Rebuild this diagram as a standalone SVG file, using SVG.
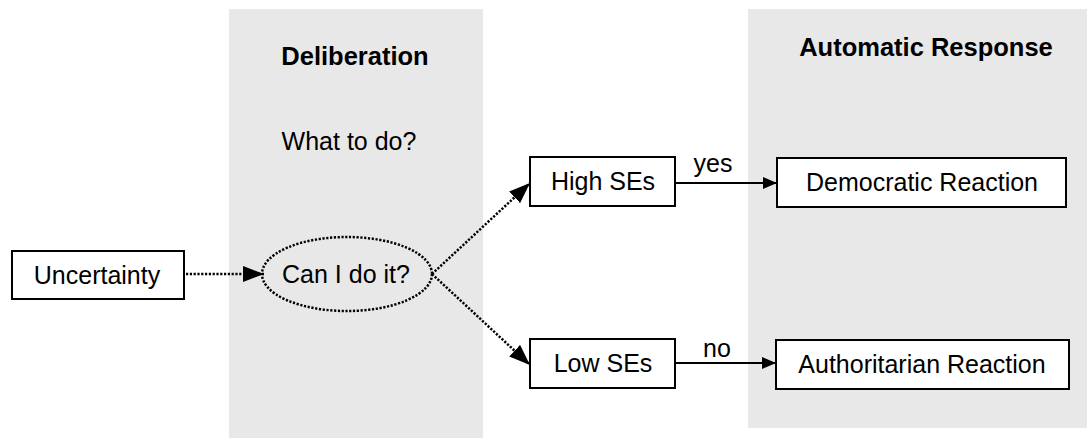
<svg xmlns="http://www.w3.org/2000/svg" width="1087" height="438" viewBox="0 0 1087 438">
  <style>
    .panel { fill: #e8e8e8; }
    .box { fill: #ffffff; stroke: #000000; stroke-width: 2; }
    .label { font-family: "Liberation Sans", Arial, sans-serif; font-size: 25px; fill: #000000; text-anchor: middle; }
    .title { font-family: "Liberation Sans", Arial, sans-serif; font-size: 25.5px; font-weight: bold; fill: #000000; text-anchor: middle; }
    .dotted { fill: none; stroke: #000000; stroke-width: 2.5; stroke-dasharray: 2.2 1.6; }
    .solid { fill: none; stroke: #000000; stroke-width: 2; }
  </style>
  <defs>
    <marker id="bigHead" viewBox="0 0 21 16" refX="21" refY="8" markerWidth="21" markerHeight="16" markerUnits="userSpaceOnUse" orient="auto">
      <path d="M0,0 L21,8 L0,16 Z" fill="#000000"/>
    </marker>
    <marker id="smallHead" viewBox="0 0 14 12" refX="14" refY="6" markerWidth="14" markerHeight="12" markerUnits="userSpaceOnUse" orient="auto">
      <path d="M0,0 L14,6 L0,12 Z" fill="#000000"/>
    </marker>
  </defs>

  <rect width="1087" height="438" fill="#ffffff"/>

  <!-- background columns -->
  <g id="panel-deliberation">
    <rect class="panel" x="229" y="9" width="254" height="429"/>
    <text class="title" x="355" y="65">Deliberation</text>
    <text class="label" x="349" y="150">What to do?</text>
  </g>
  <g id="panel-automatic">
    <rect class="panel" x="748" y="9" width="339" height="419"/>
    <text class="title" x="926" y="56">Automatic Response</text>
  </g>

  <!-- connectors -->
  <g id="connectors">
    <line class="dotted" x1="186" y1="274" x2="264" y2="274" marker-end="url(#bigHead)"/>
    <line class="dotted" x1="432" y1="274" x2="530" y2="183" marker-end="url(#bigHead)"/>
    <line class="dotted" x1="432" y1="274" x2="530" y2="365" marker-end="url(#bigHead)"/>
    <line class="solid" x1="676" y1="183" x2="777" y2="183" marker-end="url(#smallHead)"/>
    <line class="solid" x1="676" y1="363" x2="776" y2="363" marker-end="url(#smallHead)"/>
    <text class="label" x="713" y="172">yes</text>
    <text class="label" x="717" y="357">no</text>
  </g>

  <!-- nodes -->
  <g id="uncertainty">
    <rect class="box" x="12" y="251" width="172" height="48"/>
    <text class="label" x="97" y="284">Uncertainty</text>
  </g>
  <g id="can-i-do-it">
    <ellipse cx="347" cy="274" rx="85" ry="37" fill="none" stroke="#000000" stroke-width="2.5" stroke-dasharray="2.2 1.6"/>
    <text class="label" x="346" y="283">Can I do it?</text>
  </g>
  <g id="high-ses">
    <rect class="box" x="530" y="157" width="145" height="49"/>
    <text class="label" x="603" y="190">High SEs</text>
  </g>
  <g id="low-ses">
    <rect class="box" x="530" y="339" width="145" height="49"/>
    <text class="label" x="603" y="372">Low SEs</text>
  </g>
  <g id="democratic-reaction">
    <rect class="box" x="777" y="158" width="289" height="49"/>
    <text class="label" x="922" y="191">Democratic Reaction</text>
  </g>
  <g id="authoritarian-reaction">
    <rect class="box" x="776" y="340" width="293" height="49"/>
    <text class="label" x="922" y="373">Authoritarian Reaction</text>
  </g>
</svg>
